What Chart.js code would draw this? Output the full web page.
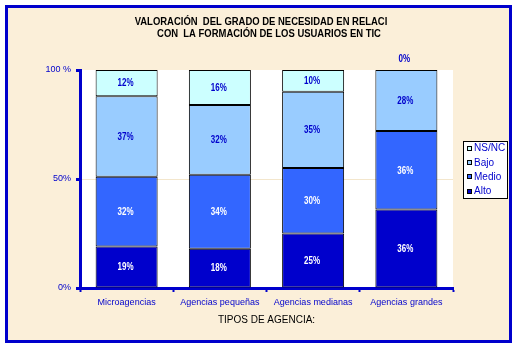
<!DOCTYPE html>
<html>
<head>
<meta charset="utf-8">
<script src="https://cdn.jsdelivr.net/npm/chart.js@4.4.0/dist/chart.umd.min.js"></script>
<style>
  html, body { margin: 0; padding: 0; background: #ffffff; }
  #marco {
    position: absolute; left: 5px; top: 5px;
    width: 501px; height: 332px;
    border: 3px solid #0000CC;
    background: #FBEFD9;
  }
  #grafico { position: absolute; left: 0; top: 0; }
</style>
</head>
<body>
<div id="marco"></div>
<canvas id="grafico" width="519" height="350"></canvas>
<script>
// Datos (porcentajes)
const categorias = ['Microagencias', 'Agencias pequeñas', 'Agencias medianas', 'Agencias grandes'];
const alto  = [19, 18, 25, 36];
const medio = [32, 34, 30, 36];
const bajo  = [37, 32, 35, 28];
const nsnc  = [12, 16, 10, 0];

const ticksY = [0, 50, 100];
const ticksYTexto = ['0%', '50%', '100 %'];

const tituloLineas = [
  'VALORACIÓN  DEL GRADO DE NECESIDAD EN RELACI',
  'CON  LA FORMACIÓN DE LOS USUARIOS EN TIC'
];

const AZUL = '#0000CC';
const fuenteNegrita = "'Liberation Sans', Arial, sans-serif";
const fuenteNormal = "'Liberation Sans', Arial, sans-serif";

// texto comprimido horizontalmente (la fuente original es estrecha)
function textoEstrecho(ctx, texto, x, y, sx) {
  ctx.save();
  ctx.translate(x, y);
  ctx.scale(sx, 1);
  ctx.fillText(texto, 0, 0);
  ctx.restore();
}

// Fondo blanco del área de trazado + título
const fondoPlugin = {
  id: 'fondo',
  beforeDraw(chart) {
    const { ctx, chartArea: a } = chart;
    ctx.save();
    ctx.fillStyle = '#ffffff';
    ctx.fillRect(a.left, a.top, a.right - a.left, a.bottom - a.top);
    ctx.restore();
  },
  afterDraw(chart) {
    const ctx = chart.ctx;
    ctx.save();
    ctx.fillStyle = '#000000';
    ctx.font = 'bold 11px ' + fuenteNegrita;
    ctx.textAlign = 'center';
    ctx.textBaseline = 'middle';
    textoEstrecho(ctx, tituloLineas[0], 261, 21.5, 0.86);
    textoEstrecho(ctx, tituloLineas[1], 269, 34, 0.86);
    ctx.restore();
  }
};

// Etiquetas de valor en cada segmento
const valoresPlugin = {
  id: 'valores',
  afterDatasetsDraw(chart) {
    const ctx = chart.ctx;
    ctx.save();
    ctx.font = 'bold 10px ' + fuenteNegrita;
    ctx.textAlign = 'center';
    ctx.textBaseline = 'middle';
    chart.data.datasets.forEach((ds, i) => {
      const meta = chart.getDatasetMeta(i);
      meta.data.forEach((bar, j) => {
        const v = ds.data[j];
        const texto = v + '%';
        if (v === 0) {
          ctx.fillStyle = AZUL;
          textoEstrecho(ctx, texto, bar.x - 2, bar.y - 11, 0.8);
        } else {
          ctx.fillStyle = ds.colorEtiqueta;
          textoEstrecho(ctx, texto, bar.x - 1, (bar.y + bar.base) / 2 + 0.5, 0.8);
        }
      });
    });
    ctx.restore();
  }
};

// Leyenda con recuadro a la derecha
const leyendaPlugin = {
  id: 'leyendaCaja',
  afterDraw(chart) {
    const ctx = chart.ctx;
    ctx.save();
    ctx.fillStyle = '#ffffff';
    ctx.fillRect(463, 141, 44, 57);
    ctx.strokeStyle = '#000000';
    ctx.lineWidth = 1;
    ctx.strokeRect(463.5, 141.5, 44, 57);
    ctx.font = '10px ' + fuenteNormal;
    ctx.textBaseline = 'middle';
    const ds = chart.data.datasets.slice().reverse();
    ds.forEach((d, k) => {
      const y = 148.5 + k * 14.4;
      ctx.fillStyle = d.backgroundColor;
      ctx.fillRect(467, Math.round(y) - 3, 5, 5);
      ctx.strokeStyle = '#000000';
      ctx.strokeRect(467.5, Math.round(y) - 2.5, 4, 4);
      ctx.fillStyle = AZUL;
      ctx.fillText(d.label, 474, y);
    });
    ctx.restore();
  }
};

new Chart(document.getElementById('grafico'), {
  type: 'bar',
  data: {
    labels: categorias,
    datasets: [
      { label: 'Alto',  data: alto,  backgroundColor: '#0000CC', colorEtiqueta: '#ffffff' },
      { label: 'Medio', data: medio, backgroundColor: '#3366FF', colorEtiqueta: '#ffffff' },
      { label: 'Bajo',  data: bajo,  backgroundColor: '#99CCFF', colorEtiqueta: AZUL },
      { label: 'NS/NC', data: nsnc,  backgroundColor: '#CCFFFF', colorEtiqueta: AZUL }
    ].map(d => Object.assign(d, {
      borderColor: '#000000',
      borderWidth: 1,
      borderSkipped: false,
      barPercentage: 0.665,
      categoryPercentage: 1
    }))
  },
  options: {
    responsive: false,
    animation: false,
    layout: { padding: { left: 0, top: 70, right: 66, bottom: 0 } },
    plugins: {
      legend: { display: false },
      tooltip: { enabled: false }
    },
    scales: {
      x: {
        stacked: true,
        afterFit(scale) { scale.height = 62; },
        border: { color: AZUL, width: 3 },
        grid: {
          offset: true,
          drawOnChartArea: false,
          tickLength: 4,
          tickColor: AZUL,
          tickWidth: 2
        },
        ticks: {
          color: AZUL,
          padding: 5,
          maxRotation: 0,
          font: { family: fuenteNormal, size: 9 }
        },
        title: {
          display: true,
          text: 'TIPOS DE AGENCIA:',
          color: '#000000',
          font: { family: fuenteNormal, size: 10 },
          padding: { top: 0, bottom: 24 }
        }
      },
      y: {
        stacked: true,
        min: 0,
        max: 100,
        afterFit(scale) { scale.width = 80; },
        afterBuildTicks(scale) { scale.ticks = ticksY.map(v => ({ value: v })); },
        border: { color: AZUL, width: 3 },
        grid: {
          color: ctx => (ctx.tick && ctx.tick.value === 50) ? '#F3E6CC' : 'rgba(0,0,0,0)',
          lineWidth: 1,
          tickLength: 4,
          tickColor: AZUL,
          tickWidth: 3
        },
        ticks: {
          color: AZUL,
          padding: 5,
          font: { family: fuenteNormal, size: 9 },
          callback: v => ticksYTexto[ticksY.indexOf(v)]
        }
      }
    }
  },
  plugins: [fondoPlugin, valoresPlugin, leyendaPlugin]
});
</script>
</body>
</html>
